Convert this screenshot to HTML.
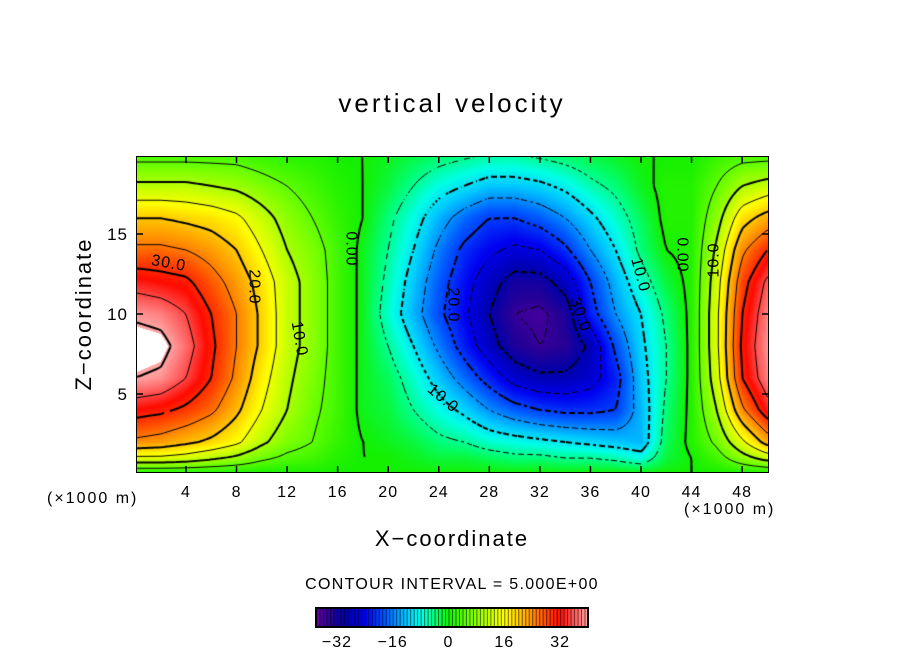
<!DOCTYPE html>
<html><head><meta charset="utf-8"><style>
body{margin:0;background:#fff;width:904px;height:654px;position:relative;overflow:hidden;font-family:"Liberation Sans",sans-serif;color:#000}
.t{position:absolute;white-space:nowrap}
.lab{position:absolute;font-size:16px;transform-origin:center center;white-space:nowrap;letter-spacing:1px}
</style></head><body>
<div class="t" style="left:0;width:904px;text-align:center;top:88px;font-size:26px;letter-spacing:3px">vertical velocity</div>
<canvas id="cv" width="631" height="315" style="position:absolute;left:137px;top:157px"></canvas>
<div style="position:absolute;left:136px;top:156px;width:631px;height:315px;border:1px solid #000"></div>
<svg id="ax" width="904" height="654" style="position:absolute;left:0;top:0"></svg>
<div class="t" style="left:0;width:904px;text-align:center;top:526px;font-size:22px;letter-spacing:2px">X−coordinate</div>
<div class="t" style="left:-6px;top:301px;font-size:22px;letter-spacing:2px;transform:rotate(-90deg);transform-origin:center;width:180px;text-align:center">Z−coordinate</div>
<div class="t" style="left:47px;top:490px;font-size:16px;letter-spacing:2px">(×1000 m)</div>
<div class="t" style="left:684px;top:501px;font-size:16px;letter-spacing:2px">(×1000 m)</div>
<div class="t" style="left:0;width:904px;text-align:center;top:576px;font-size:16px;letter-spacing:1.3px">CONTOUR INTERVAL = 5.000E+00</div>
<div class="lab" style="left:151px;top:255px;transform:rotate(10deg)">30.0</div>
<div class="lab" style="left:236px;top:278px;transform:rotate(90deg)">20.0</div>
<div class="lab" style="left:281px;top:330px;transform:rotate(80deg)">10.0</div>
<div class="lab" style="left:333px;top:240px;transform:rotate(90deg)">0.00</div>
<div class="lab" style="left:435px;top:296px;transform:rotate(90deg)">20.0</div>
<div class="lab" style="left:425px;top:390px;transform:rotate(40deg)">10.0</div>
<div class="lab" style="left:562px;top:306px;transform:rotate(70deg)">30.0</div>
<div class="lab" style="left:622px;top:266px;transform:rotate(75deg)">10.0</div>
<div class="lab" style="left:664px;top:246px;transform:rotate(90deg)">0.00</div>
<div class="lab" style="left:697px;top:251px;transform:rotate(-90deg)">10.0</div>
<script>
const xs=[0,2,4,6,8,10,12,14,16,18,20,22,24,26,28,30,32,34,36,38,40,42,44,46,48,50];
const zs=[0,1,2,4,6,8,10,12,14,16,18,20];
const w=[
[0,0,0,0,0,0,0,0,0,0,0,0,0,0,0,0,0,0,0,0,0,0,0,0,0,0],
[14,14,13,11,9,6,4,3,1,0,0,-1,-2,-2,-3,-4,-4,-5,-5,-6,-8,-2,0,3,8,12],
[24,23,21,19,16,11,7,5,2,0,-1,-2,-4,-5,-7,-8,-9,-10,-11,-12,-13,-3,1,6,14,22],
[32,31,29,26,21,15,10,6,3,-1,-2,-5,-8,-11,-15,-18,-20,-21,-21,-20,-13,-4,1,10,24,33],
[40,39,35,30,24,17,11,7,3,-1,-3,-7,-12,-17,-22,-27,-29,-29,-27,-22,-12,-5,1,13,30,38],
[43,42,37,31,25,19,12,8,3,-1,-5,-10,-16,-22,-28,-33,-35,-34,-29,-19,-11,-5,1,14,31,39],
[39,38,35,30,25,19,12,8,3,-1,-7,-13,-19,-24,-30,-35,-36,-33,-22,-15,-10,-4,1,14,30,38],
[33,32,31,27,23,18,12,8,3,-1,-6,-12,-18,-23,-28,-32,-32,-28,-20,-13,-7,-2,1,13,28,36],
[26,26,25,23,20,15,10,7,3,-1,-5,-10,-16,-21,-24,-26,-25,-21,-15,-10,-4,0,1,11,24,30],
[20,20,19,18,16,12,8,5,2,0,-4,-8,-13,-17,-20,-20,-18,-15,-11,-7,-3,1,1,8,18,22],
[11,11,11,10,9,7,5,3,1,0,-2,-5,-8,-10,-12,-12,-11,-9,-6,-4,-1,1,1,5,10,12],
[3,3,3,3,3,2,1,1,0,0,-1,-2,-3,-4,-5,-5,-4,-3,-2,-1,0,0,0,2,3,3]];
const xTicks=[4,8,12,16,20,24,28,32,36,40,44,48];
const zTicks=[5,10,15];
const cbTicks=[-32,-16,0,16,32];
const levels=[-35,-30,-25,-20,-15,-10,-5,0,5,10,15,20,25,30,35,40];
const cbMin=-38,cbMax=40;
const stops=[[-38,100,0,160],[-34,40,0,150],[-30,0,0,170],[-24,0,0,240],[-18,0,90,255],[-12,0,200,255],[-8,0,255,230],[-4,0,255,120],[0,20,240,0],[6,110,255,0],[12,200,255,0],[16,255,255,0],[20,255,200,0],[24,255,140,0],[28,255,70,0],[32,255,10,0],[36,255,90,90],[40,255,165,165]];
const PX0=135.4,PXK=12.64,PY0=474,PYK=16,L=137,T=157;
function sx(x){return PX0+PXK*x}
function sy(z){return PY0-PYK*z}
function col(v){if(v>40.5)return[255,255,255];if(v<=stops[0][0])return stops[0].slice(1);
for(let i=1;i<stops.length;i++){if(v<=stops[i][0]){const a=stops[i-1],b=stops[i],t=(v-a[0])/(b[0]-a[0]);return[a[1]+t*(b[1]-a[1]),a[2]+t*(b[2]-a[2]),a[3]+t*(b[3]-a[3])];}}return stops[stops.length-1].slice(1);}
function idx(arr,v){let i=0;while(i<arr.length-2&&v>arr[i+1])i++;return i;}
function field(x,z){x=Math.max(0,Math.min(50,x));z=Math.max(0,Math.min(20,z));
const i=idx(xs,x),j=idx(zs,z);const tx=(x-xs[i])/(xs[i+1]-xs[i]),tz=(z-zs[j])/(zs[j+1]-zs[j]);
return (w[j][i]*(1-tx)+w[j][i+1]*tx)*(1-tz)+(w[j+1][i]*(1-tx)+w[j+1][i+1]*tx)*tz;}
const cv=document.getElementById('cv'),ctx=cv.getContext('2d');
const W=cv.width,H=cv.height,img=ctx.createImageData(W,H);
for(let py=0;py<H;py++)for(let px=0;px<W;px++){const x=(px+L+0.5-PX0)/PXK,z=(PY0-(py+T+0.5))/PYK;
const c=col(field(x,z)),k=(py*W+px)*4;img.data[k]=c[0];img.data[k+1]=c[1];img.data[k+2]=c[2];img.data[k+3]=255;}
ctx.putImageData(img,0,0);
const S=3,nx=Math.ceil(W/S)+1,nz=Math.ceil(H/S)+1,g=[];
for(let j=0;j<nz;j++){g[j]=[];for(let i=0;i<nx;i++){g[j][i]=field((i*S+L-PX0)/PXK,(PY0-(j*S+T))/PYK);}}
levels.forEach(lv=>{ctx.strokeStyle='#000';ctx.lineWidth=(lv%10===0)?2:1;ctx.beginPath();
for(let j=0;j<nz-1;j++)for(let i=0;i<nx-1;i++){
if(lv<0&&((i+j)%3===0))continue;
const a=g[j][i],b=g[j][i+1],c=g[j+1][i+1],d=g[j+1][i];const p=[];
function e(v1,v2,x1,y1,x2,y2){if((v1-lv)*(v2-lv)<0){const t=(lv-v1)/(v2-v1);p.push([x1+t*(x2-x1),y1+t*(y2-y1)]);}}
const X=i*S,Y=j*S;e(a,b,X,Y,X+S,Y);e(b,c,X+S,Y,X+S,Y+S);e(c,d,X+S,Y+S,X,Y+S);e(d,a,X,Y+S,X,Y);
for(let k=0;k+1<p.length;k+=2){ctx.moveTo(p[k][0],p[k][1]);ctx.lineTo(p[k+1][0],p[k+1][1]);}}
ctx.stroke();});
const NS='http://www.w3.org/2000/svg',ax=document.getElementById('ax');
function mk(tag,at){const e=document.createElementNS(NS,tag);for(const k in at)e.setAttribute(k,at[k]);ax.appendChild(e);return e;}
xTicks.forEach(v=>{const x=sx(v);
let t=mk('line',{x1:x,x2:x,y1:157,y2:163,stroke:'#000','stroke-width':1.5});


t=mk('line',{x1:x,x2:x,y1:466,y2:472,stroke:'#000','stroke-width':1.5});


const tx=mk('text',{x:x,y:497,'font-size':16,'letter-spacing':1,'text-anchor':'middle','font-family':'Liberation Sans, sans-serif'});tx.textContent=v;

});
zTicks.forEach(v=>{const y=sy(v);
let t=mk('line',{x1:137,x2:143,y1:y,y2:y,stroke:'#000','stroke-width':1.5});


t=mk('line',{x1:762,x2:768,y1:y,y2:y,stroke:'#000','stroke-width':1.5});


const tx=mk('text',{x:128,y:y+6,'font-size':17,'letter-spacing':1,'text-anchor':'end','font-family':'Liberation Sans, sans-serif'});tx.textContent=v;

});
const cbL=316,cbR=588,cbT=608,cbB=627;
function cbx(v){return cbL+(v-cbMin)/(cbMax-cbMin)*(cbR-cbL)}
for(let v=cbMin;v<cbMax;v+=1){const c=col(v+0.5);
const r=mk('rect',{x:cbx(v),y:cbT,width:cbx(v+1)-cbx(v)+0.3,height:cbB-cbT,fill:'rgb('+c.map(Math.round).join(',')+')'});


const s=mk('line',{x1:cbx(v)+0.5,x2:cbx(v)+0.5,y1:cbT,y2:cbB,stroke:'rgba(0,0,0,0.55)','stroke-width':1});

}
const fr=mk('rect',{x:cbL,y:cbT,width:cbR-cbL,height:cbB-cbT,fill:'none',stroke:'#000','stroke-width':2});


cbTicks.forEach(v=>{const tx=mk('text',{x:cbx(v),y:647,'font-size':16,'letter-spacing':1,'text-anchor':'middle','font-family':'Liberation Sans, sans-serif'});tx.textContent=(v<0?'−'+(-v):v);

});
</script>
</body></html>
